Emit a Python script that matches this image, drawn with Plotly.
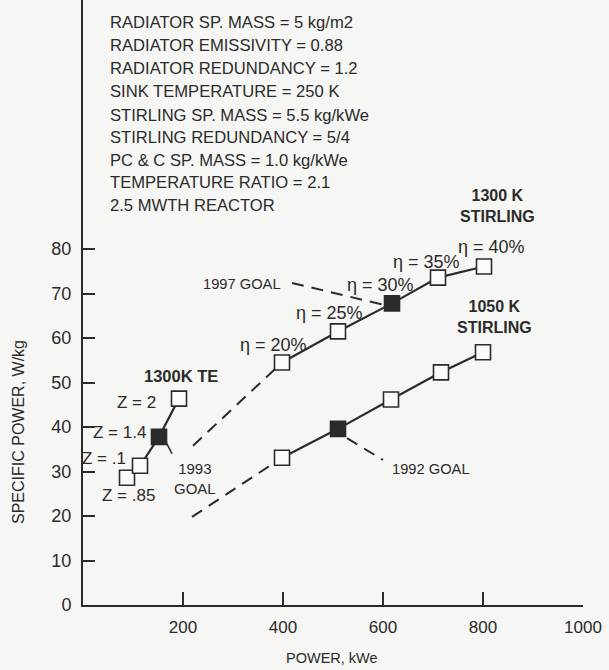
import plotly.graph_objects as go

# ---------------- data ----------------
te_power = [88, 114, 152, 192]
te_sp = [28.6, 31.3, 37.8, 46.4]
te_filled = [False, False, True, False]
te_labels = ["Z = .85", "Z = .1", "Z = 1.4", "Z = 2"]

st1300_power = [398, 510, 618, 710, 802]
st1300_sp = [54.5, 61.5, 67.8, 73.6, 76.1]
st1300_filled = [False, False, True, False, False]
st1300_labels = ["η = 20%", "η = 25%", "η = 30%", "η = 35%", "η = 40%"]

st1050_power = [398, 510, 616, 716, 800]
st1050_sp = [33.1, 39.6, 46.2, 52.3, 56.8]
st1050_filled = [False, True, False, False, False]

# dashed extrapolations
ext1300_power = [220, 398]
ext1300_sp = [35.8, 54.5]
ext1050_power = [218, 398]
ext1050_sp = [19.8, 33.1]

# goal leaders
goal1997_power = [418, 604]
goal1997_sp = [72.4, 67.4]
goal1993_power = [166, 178]
goal1993_sp = [36.6, 34.0]
goal1992_power = [528, 600]
goal1992_sp = [37.5, 32.6]

x_ticks = [200, 400, 600, 800, 1000]
y_ticks = [0, 10, 20, 30, 40, 50, 60, 70, 80]

assumptions = [
    "RADIATOR SP. MASS = 5 kg/m2",
    "RADIATOR EMISSIVITY = 0.88",
    "RADIATOR REDUNDANCY = 1.2",
    "SINK TEMPERATURE = 250 K",
    "STIRLING SP. MASS = 5.5 kg/kWe",
    "STIRLING REDUNDANCY = 5/4",
    "PC & C SP. MASS = 1.0 kg/kWe",
    "TEMPERATURE RATIO = 2.1",
    "2.5 MWTH REACTOR",
]

# ---------------- styling ----------------
FONT = "Liberation Sans, Arial, sans-serif"
INK = "#2b2b2b"
BG = "#f6f6f4"

fig = go.Figure()


def series(xs, ys, filled):
    fig.add_trace(go.Scatter(
        x=xs, y=ys, mode="lines",
        line=dict(color=INK, width=2.2), hoverinfo="skip", showlegend=False))
    fig.add_trace(go.Scatter(
        x=xs, y=ys, mode="markers",
        marker=dict(symbol="square", size=15,
                    color=[INK if f else "#fbfbfa" for f in filled],
                    line=dict(color=INK, width=1.6)),
        showlegend=False))


def dashed(xs, ys):
    fig.add_trace(go.Scatter(
        x=xs, y=ys, mode="lines",
        line=dict(color=INK, width=2, dash="12px,8px"),
        hoverinfo="skip", showlegend=False))


dashed(ext1300_power, ext1300_sp)
dashed(ext1050_power, ext1050_sp)
dashed(goal1997_power, goal1997_sp)
dashed(goal1992_power, goal1992_sp)
fig.add_trace(go.Scatter(x=goal1993_power, y=goal1993_sp, mode="lines",
                         line=dict(color=INK, width=1.6), showlegend=False))

series(te_power, te_sp, te_filled)
series(st1300_power, st1300_sp, st1300_filled)
series(st1050_power, st1050_sp, st1050_filled)

ann = []


def label(x, y, text, xanchor="center", bold=False, size=17):
    ann.append(dict(x=x, y=y, text=f"<b>{text}</b>" if bold else text,
                    xanchor=xanchor, yanchor="middle", showarrow=False,
                    font=dict(family=FONT, size=size, color=INK)))


# assumptions block
line_y_px = [22, 45, 68, 91, 115, 137, 160, 182, 205]
for t, py in zip(assumptions, line_y_px):
    label(50, (605 - py) / 4.45, t, xanchor="left", size=16.6)

# TE labels
label(196, 51.5, "1300K TE", bold=True, size=16.5)
label(150, 45.6, te_labels[3], xanchor="right")
label(130, 38.7, te_labels[2], xanchor="right")
label(90, 33.0, te_labels[1], xanchor="right")
label(90, 24.7, te_labels[0])
label(178, 28.5, "1993<br>GOAL", xanchor="left", size=15)

# 1300 K stirling labels
eta_pos = [(380, 58.4), (492, 65.6), (594, 71.9), (686, 77.1), (816, 80.4)]
for (ex, ey), t in zip(eta_pos, st1300_labels):
    label(ex, ey, t, size=18)
label(400, 72.1, "1997 GOAL", xanchor="right", size=14.7)
label(614, 30.6, "1992 GOAL", xanchor="left", size=14.7)
label(828, 89.7, "1300 K<br>STIRLING", bold=True, size=16)
label(822, 64.7, "1050 K<br>STIRLING", bold=True, size=16)

# axis titles
ann.append(dict(xref="paper", yref="paper", x=0.498, y=(605 - 658) / 605,
                text="POWER, kWe", showarrow=False,
                xanchor="center", yanchor="middle",
                font=dict(family=FONT, size=14.5, color=INK)))
ann.append(dict(xref="paper", yref="paper", x=(18 - 83) / 500, y=(605 - 432) / 605,
                text="SPECIFIC POWER, W/kg", showarrow=False, textangle=-90,
                xanchor="center", yanchor="middle",
                font=dict(family=FONT, size=16, color=INK)))

fig.update_layout(
    width=609, height=670,
    margin=dict(l=83, r=26, t=0, b=65),
    paper_bgcolor=BG, plot_bgcolor=BG,
    annotations=ann,
    showlegend=False,
    xaxis=dict(range=[0, 1000], tickvals=x_ticks, ticks="inside", ticklen=13,
               tickwidth=2, tickcolor=INK, showline=True, linecolor=INK,
               linewidth=2, showgrid=False, zeroline=False,
               tickfont=dict(family=FONT, size=17, color=INK),
               ticklabelstandoff=6),
    yaxis=dict(range=[0, 136], tickvals=y_ticks, ticks="inside", ticklen=12,
               tickwidth=2, tickcolor=INK, showline=True, linecolor=INK,
               linewidth=2, showgrid=False, zeroline=False,
               tickfont=dict(family=FONT, size=18, color=INK),
               ticklabelstandoff=6),
)

fig.write_html(
    "out.html",
    config={"displayModeBar": False},
    post_script="document.body.style.margin='0';document.body.style.padding='0';",
)
